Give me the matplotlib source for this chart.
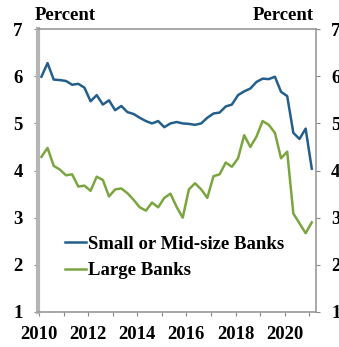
import numpy as np
import matplotlib
matplotlib.use("Agg")
import matplotlib.pyplot as plt

# quarterly, 2010Q1 .. 2021Q1
quarters = np.arange(45)
small_mid = [5.99, 6.28, 5.93, 5.92, 5.90, 5.82, 5.84, 5.76, 5.47, 5.60,
             5.40, 5.49, 5.28, 5.37, 5.24, 5.20, 5.12, 5.05, 5.00, 5.05,
             4.92, 5.00, 5.03, 5.00, 4.99, 4.97, 5.00, 5.12, 5.21, 5.23,
             5.36, 5.40, 5.60, 5.68, 5.74, 5.88, 5.95, 5.94, 5.99, 5.67,
             5.58, 4.80, 4.67, 4.89, 4.04]
large = [4.29, 4.48, 4.10, 4.02, 3.90, 3.92, 3.66, 3.68, 3.57, 3.87,
         3.80, 3.45, 3.60, 3.62, 3.52, 3.38, 3.22, 3.15, 3.32, 3.22,
         3.42, 3.51, 3.23, 3.00, 3.60, 3.73, 3.60, 3.42, 3.88, 3.92,
         4.17, 4.08, 4.26, 4.75, 4.50, 4.72, 5.05, 4.97, 4.80, 4.26,
         4.40, 3.09, 2.88, 2.67, 2.90]
labels = ["Small or Mid-size Banks", "Large Banks"]
years = np.arange(2010, 2022)

dates = 2010 + quarters / 4 + 0.1

plt.rcParams['font.family'] = ['Liberation Serif', 'DejaVu Serif']
plt.rcParams['font.weight'] = 'bold'
fs = 13.5

fig = plt.figure(figsize=(3.39, 3.47), dpi=100)
ax = fig.add_axes([0.112, 0.101, 0.82, 0.815])

ax.plot(dates, small_mid, color='#245f8c', lw=1.8, label=labels[0])
ax.plot(dates, large, color='#7ba540', lw=1.8, label=labels[1])

ax.set_xlim(2009.96, 2021.27)
ax.set_ylim(1, 7)
ax.set_yticks(range(1, 8))
ax.set_xticks(years)
ax.set_xticklabels([str(y) if y % 2 == 0 else '' for y in years])

ax.tick_params(axis='both', labelsize=fs, length=3, width=0.8, color='#888888',
               direction='out')
ax.tick_params(axis='y', right=True, labelright=True, pad=8)
ax.tick_params(axis='x', pad=7)
for lab in ax.get_xticklabels() + ax.get_yticklabels():
    lab.set_fontweight('bold')

ax.spines['left'].set_color('#b5b5b5')
ax.spines['left'].set_linewidth(3)
for s in ['top', 'right', 'bottom']:
    ax.spines[s].set_color('#999999')
    ax.spines[s].set_linewidth(1.2)

fig.text(0.103, 0.955, 'Percent', fontsize=fs, fontweight='bold', ha='left', va='center')
fig.text(0.925, 0.955, 'Percent', fontsize=fs, fontweight='bold', ha='right', va='center')

leg = ax.legend(loc='center left', bbox_to_anchor=(0.097, 0.193), frameon=False,
                prop={'size': fs, 'weight': 'bold'}, handlelength=1.1,
                handletextpad=0.15, labelspacing=0.5, borderpad=0, borderaxespad=0)

fig.savefig('out.png', dpi=100)
